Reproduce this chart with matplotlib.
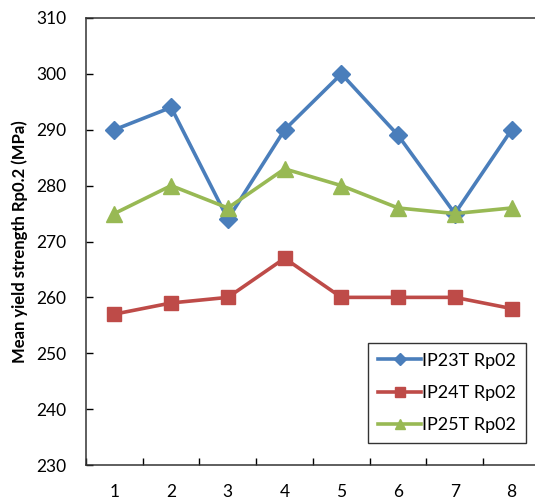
import matplotlib
matplotlib.use("Agg")
import matplotlib.pyplot as plt
import numpy as np

# data
categories = ["1", "2", "3", "4", "5", "6", "7", "8"]
ip23t = [290, 294, 274, 290, 300, 289, 275, 290]
ip24t = [257, 259, 260, 267, 260, 260, 260, 258]
ip25t = [275, 280, 276, 283, 280, 276, 275, 276]
series_names = ["IP23T Rp02", "IP24T Rp02", "IP25T Rp02"]
y_ticks = [230, 240, 250, 260, 270, 280, 290, 300, 310]

plt.rcParams['font.family'] = ['Lato', 'DejaVu Sans']

fig = plt.figure(figsize=(5.35, 5.03), dpi=100)
ax = fig.add_axes([86 / 535, 38 / 503, 454 / 535, 447 / 503])

x = np.arange(len(categories))
ax.plot(x, ip23t, color="#4A7EBB", lw=2.6, marker="D", ms=9, label=series_names[0])
ax.plot(x, ip24t, color="#BE4B48", lw=2.6, marker="s", ms=10, label=series_names[1])
ax.plot(x, ip25t, color="#98B954", lw=2.6, marker="^", ms=11, label=series_names[2])

ax.set_xlim(-0.5, len(categories) - 0.5)
ax.set_ylim(230, 310)
ax.set_yticks(y_ticks)
ax.set_xticks(x)
ax.set_xticklabels(categories)
# category boundaries carry the tick marks, labels sit in the middle
ax.set_xticks(np.arange(-0.5, len(categories)), minor=True)
ax.tick_params(axis="x", which="major", length=0, pad=14, labelsize=12.5)
ax.tick_params(axis="x", which="minor", direction="in", length=5, width=1)
ax.tick_params(axis="y", direction="in", length=5, width=1, pad=14, labelsize=12.5)

for s in ["left", "bottom", "top"]:
    ax.spines[s].set_linewidth(1.1)
    ax.spines[s].set_color("#333333")
ax.spines["right"].set_visible(False)

ax.set_ylabel("Mean yield strength Rp0.2 (MPa)", fontsize=12, fontweight="bold", labelpad=6)

leg = ax.legend(loc="lower right", bbox_to_anchor=(0.969, 0.049), borderaxespad=0,
                fontsize=13, frameon=True, fancybox=False, edgecolor="black",
                handlelength=2.4, handletextpad=0.05, labelspacing=0.9,
                borderpad=0.55, markerscale=0.65)
leg.get_frame().set_linewidth(1.0)

fig.savefig("out.png", dpi=100)
plt.close(fig)
